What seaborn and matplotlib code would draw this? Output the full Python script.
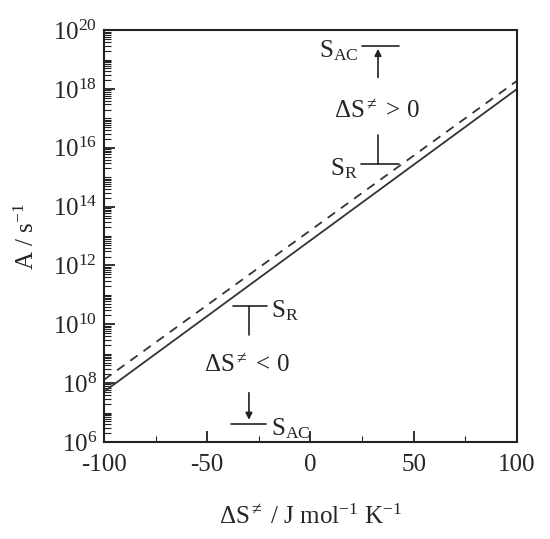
import numpy as np
import pandas as pd
import seaborn as sns
import matplotlib.pyplot as plt
from matplotlib.ticker import FixedLocator, LogLocator, FuncFormatter, NullFormatter

# values
delta_s = [-100, 100]
a_solid = [5.1e7, 1.0e18]
a_dashed = [1.3e8, 1.9e18]
x_ticks = [-100, -50, 0, 50, 100]
y_ticks = [1e6, 1e8, 1e10, 1e12, 1e14, 1e16, 1e18, 1e20]

sns.set_style('ticks')
plt.rcParams['font.family'] = ['Liberation Serif', 'DejaVu Serif']
plt.rcParams['mathtext.fontset'] = 'custom'
plt.rcParams['mathtext.rm'] = 'Liberation Serif'
plt.rcParams['mathtext.it'] = 'Liberation Serif:italic'
plt.rcParams['mathtext.default'] = 'regular'
plt.rcParams['axes.unicode_minus'] = False

df = pd.DataFrame({
    'dS': delta_s + delta_s,
    'A': a_solid + a_dashed,
    'curve': ['solid'] * 2 + ['dashed'] * 2,
})

fig = plt.figure(figsize=(5.5, 5.39), dpi=100)
ax = fig.add_axes([0.189, 0.18, 0.751, 0.764])

sns.lineplot(data=df[df.curve == 'solid'], x='dS', y='A', color='#333333', lw=1.3, ax=ax)
sns.lineplot(data=df[df.curve == 'dashed'], x='dS', y='A', color='#333333', lw=1.3,
             linestyle=(0, (5, 4)), ax=ax)

ax.set_yscale('log')
ax.set_xlim(-100, 100)
ax.set_ylim(1e6, 1e20)
ax.xaxis.set_major_locator(FixedLocator(x_ticks))
ax.xaxis.set_minor_locator(FixedLocator([-75, -25, 25, 75]))
ax.yaxis.set_major_locator(FixedLocator(y_ticks))
ax.yaxis.set_major_formatter(FuncFormatter(lambda v, p: '10$^{%d}$' % round(np.log10(v))))
ax.yaxis.set_minor_locator(LogLocator(base=10, subs=np.arange(1, 10), numticks=100))
ax.yaxis.set_minor_formatter(NullFormatter())

ax.tick_params(which='both', direction='in', labelsize=18, color='#222222')
ax.tick_params(which='major', length=8, width=1.3)
ax.tick_params(which='minor', length=4, width=0.8)
ax.tick_params(axis='y', which='minor', length=5)
ax.tick_params(axis='x', which='major', pad=9)
ax.tick_params(axis='y', which='major', pad=5)
for s in ax.spines.values():
    s.set_linewidth(1.5)
    s.set_color('#222222')

ax.set_xlabel('ΔS$^{\\neq}$ / J mol$^{-1}$ K$^{-1}$', fontsize=18, labelpad=20)
ax.set_ylabel('A / s$^{-1}$', fontsize=18, labelpad=10)

k = dict(color='#222222', lw=1.2)
ts = 18
# positive entropy annotation
ax.plot([24.9, 42.9], [10**19.46, 10**19.46], **k)
ax.annotate('', xy=(32.7, 10**19.46), xytext=(32.7, 10**18.3),
            arrowprops=dict(arrowstyle='-|>', color='#222222', lw=1.2, mutation_scale=10))
ax.text(32.2, 10**17.25, 'ΔS$^{\\neq}$ > 0', ha='center', va='center', fontsize=ts)
ax.plot([32.7, 32.7], [10**16.43, 10**15.45], **k)
ax.plot([24.4, 42.9], [10**15.45, 10**15.45], **k)
ax.text(23.0, 10**15.3, 'S$_{R}$', ha='right', va='center', fontsize=ts)
ax.text(23.0, 10**19.3, 'S$_{AC}$', ha='right', va='center', fontsize=ts)

# negative entropy annotation
ax.plot([-37.5, -21.1], [10**10.62, 10**10.62], **k)
ax.plot([-29.8, -29.8], [10**10.62, 10**9.64], **k)
ax.text(-30.8, 10**8.6, 'ΔS$^{\\neq}$ < 0', ha='center', va='center', fontsize=ts)
ax.annotate('', xy=(-29.8, 10**6.66), xytext=(-29.8, 10**7.77),
            arrowprops=dict(arrowstyle='-|>', color='#222222', lw=1.2, mutation_scale=10))
ax.plot([-38.5, -21.5], [10**6.61, 10**6.61], **k)
ax.text(-19.0, 10**10.45, 'S$_{R}$', ha='left', va='center', fontsize=ts)
ax.text(-19.0, 10**6.45, 'S$_{AC}$', ha='left', va='center', fontsize=ts)

fig.savefig('out.png', dpi=100)
